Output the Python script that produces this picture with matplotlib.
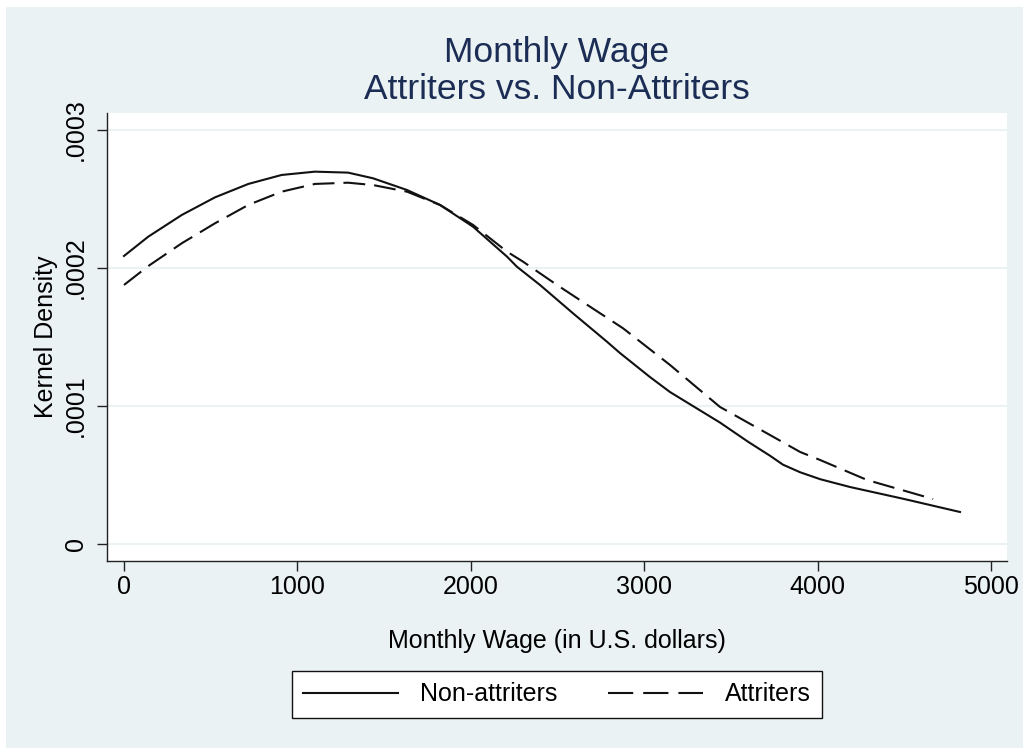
import matplotlib
matplotlib.use("Agg")
import matplotlib.pyplot as plt
from matplotlib.patches import Rectangle

plt.rcParams["font.family"] = ["Liberation Sans", "DejaVu Sans"]

# kernel density estimates
wage_non = [0, 140, 333, 525, 717, 909, 1101, 1292, 1436, 1632, 1822, 2013, 2209, 2266,
            2399, 2589, 2785, 2860, 3033, 3149, 3437, 3600, 3725, 3800, 3899, 4014, 4187,
            4500, 4821]
dens_non = [2.087e-4, 2.227e-4, 2.384e-4, 2.512e-4, 2.609e-4, 2.674e-4, 2.698e-4, 2.691e-4,
            2.650e-4, 2.565e-4, 2.457e-4, 2.299e-4, 2.082e-4, 2.009e-4, 1.877e-4, 1.672e-4,
            1.466e-4, 1.384e-4, 1.21e-4, 1.101e-4, 0.88e-4, 0.74e-4, 0.64e-4, 0.575e-4,
            0.52e-4, 0.47e-4, 0.413e-4, 0.326e-4, 0.232e-4]

wage_att = [0, 140, 333, 525, 717, 909, 1101, 1292, 1436, 1632, 1822, 2013, 2209, 2301,
            2497, 2687, 2878, 3149, 3437, 3725, 3899, 4014, 4285, 4666]
dens_att = [1.877e-4, 2.014e-4, 2.179e-4, 2.324e-4, 2.457e-4, 2.553e-4, 2.609e-4, 2.618e-4,
            2.601e-4, 2.553e-4, 2.457e-4, 2.312e-4, 2.118e-4, 2.046e-4, 1.877e-4, 1.72e-4,
            1.563e-4, 1.297e-4, 0.993e-4, 0.79e-4, 0.667e-4, 0.609e-4, 0.464e-4, 0.326e-4]

x_ticks = [0, 1000, 2000, 3000, 4000, 5000]
y_ticks = [0, 1e-4, 2e-4, 3e-4]
y_tick_labels = ["0", ".0001", ".0002", ".0003"]

W, H = 1023, 748
bg = "#EAF2F3"
navy = "#1c2d55"
ink = "#111111"

fig = plt.figure(figsize=(W / 100, H / 100), dpi=100, facecolor="white")
fig.patches.append(Rectangle((6 / W, 0), 1 - 6 / W, 1 - 7 / H, transform=fig.transFigure,
                             facecolor=bg, edgecolor="none", zorder=-10))

ax = fig.add_axes([107 / W, 1 - 561 / H, 900 / W, 448 / H])
ax.set_facecolor("white")

ax.plot(wage_non, dens_non, color=ink, linewidth=1.5, label="Non-attriters",
        solid_joinstyle="round")
ax.plot(wage_att, dens_att, color=ink, linewidth=1.5, linestyle=(0, (10.5, 4.3)),
        label="Attriters", dash_capstyle="butt", dash_joinstyle="round")

ax.set_xlim(-98, 5092)
ax.set_ylim(-1.23e-5, 3.123e-4)

ax.set_xticks(x_ticks)
ax.set_xticklabels([str(t) for t in x_ticks])
ax.set_yticks(y_ticks)
ax.set_yticklabels(y_tick_labels, rotation=90, va="center")

ax.grid(True, axis="y", color=bg, linewidth=1.5)
ax.set_axisbelow(True)

for side in ["top", "right"]:
    ax.spines[side].set_visible(False)
for side in ["left", "bottom"]:
    ax.spines[side].set_color("#222222")
    ax.spines[side].set_linewidth(1.0)

ax.tick_params(axis="x", length=7, width=1, color="#222222", labelsize=18, pad=3)
ax.tick_params(axis="y", length=7, width=1, color="#222222", labelsize=18, pad=7)

ax.set_xlabel("Monthly Wage (in U.S. dollars)", fontsize=18, labelpad=22)
ax.set_ylabel("Kernel Density", fontsize=18, labelpad=4)

fig.text(557 / W, 1 - 62 / H, "Monthly Wage", ha="center", va="baseline",
         fontsize=25.5, color=navy)
fig.text(557 / W, 1 - 99 / H, "Attriters vs. Non-Attriters", ha="center", va="baseline",
         fontsize=25.5, color=navy)

leg = ax.legend(loc="upper center", bbox_to_anchor=(557 / W, 1 - 671 / H),
                bbox_transform=fig.transFigure, ncol=2, fontsize=18, frameon=True,
                fancybox=False, framealpha=1, edgecolor=ink, borderaxespad=0,
                handlelength=3.8, handletextpad=0.9, columnspacing=2.0, borderpad=0.45)
leg.get_frame().set_linewidth(1.0)
leg.get_lines()[1].set_linestyle((0, (12.1, 4.8)))

fig.savefig("out.png", dpi=100, facecolor=fig.get_facecolor())
